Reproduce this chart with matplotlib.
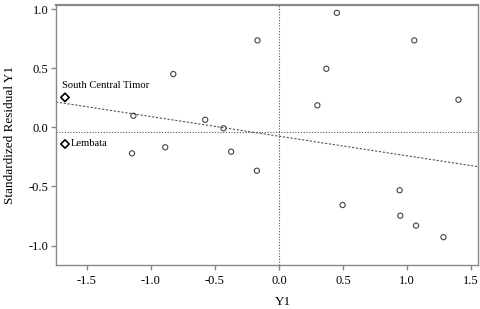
import matplotlib
matplotlib.use("Agg")
import matplotlib.pyplot as plt

plt.rcParams['font.family'] = ['Liberation Serif', 'DejaVu Serif']

# districts (circles)
x_vals = [-1.136, -1.147, -0.888, -0.825, -0.576, -0.433, -0.374, -0.168, -0.173,
          0.451, 0.369, 0.299, 0.496, 1.055, 1.40, 0.941, 0.946, 1.069, 1.283]
resid = [0.098, -0.220, -0.169, 0.450, 0.064, -0.008, -0.206, 0.735, -0.367,
         0.968, 0.495, 0.186, -0.657, 0.735, 0.233, -0.532, -0.747, -0.831, -0.929]

# labelled outliers (diamonds)
lab_names = ['South Central Timor', 'Lembata']
lab_x = [-1.67, -1.67]
lab_y = [0.253, -0.141]

# reference lines and fit
ref_x = 0.0
ref_y = -0.04
fit_intercept = -0.075
fit_slope = -0.166

xticks = [-1.5, -1.0, -0.5, 0.0, 0.5, 1.0, 1.5]
yticks = [-1.0, -0.5, 0.0, 0.5, 1.0]

fig = plt.figure(figsize=(4.8, 3.09), dpi=100)
ax = fig.add_axes([0.1167, 0.1424, 0.8785, 0.8414])

ax.axvline(ref_x, color='#555555', lw=0.8, ls=(0, (1, 1.5)))
ax.axhline(ref_y, color='#555555', lw=0.8, ls=(0, (1, 1.5)))
ax.axline((0, fit_intercept), slope=fit_slope, color='#555555', lw=0.8, ls=(0, (2, 1.5)))

ax.scatter(x_vals, resid, s=14, facecolors='none', edgecolors='#444444', linewidths=0.8, zorder=3)
ax.scatter(lab_x, lab_y, s=18, marker='D', facecolors='none', edgecolors='black', linewidths=1.2, zorder=3)

ax.annotate(lab_names[0], (lab_x[0], lab_y[0]), xytext=(-2.2, 8.6), textcoords='offset points',
            fontsize=7.6, va='center', ha='left')
ax.annotate(lab_names[1], (lab_x[1], lab_y[1]), xytext=(4.3, 0), textcoords='offset points',
            fontsize=7.6, va='center', ha='left')

ax.set_xlim(-1.74, 1.55)
ax.set_ylim(-1.164, 1.034)
ax.set_xticks(xticks)
ax.set_yticks(yticks)
ax.set_xticklabels([f'{v:.1f}' for v in xticks])
ax.set_yticklabels([f'{v:.1f}' for v in yticks])

for side in ['left', 'bottom', 'right', 'top']:
    ax.spines[side].set_color('#888888')
    ax.spines[side].set_linewidth(1.0)
ax.spines['top'].set_linewidth(1.6)
ax.tick_params(colors='#888888', labelcolor='black', labelsize=9, length=3.5, width=1.0)
ax.tick_params(axis='x', pad=4)
ax.tick_params(axis='y', pad=2)

ax.set_xlabel('Y1', fontsize=9.5)
ax.set_ylabel('Standardized Residual Y1', fontsize=9.5)
ax.xaxis.set_label_coords(0.538, -0.119)
ax.yaxis.set_label_coords(-0.095, 0.5)

fig.savefig('out.png', dpi=100)
